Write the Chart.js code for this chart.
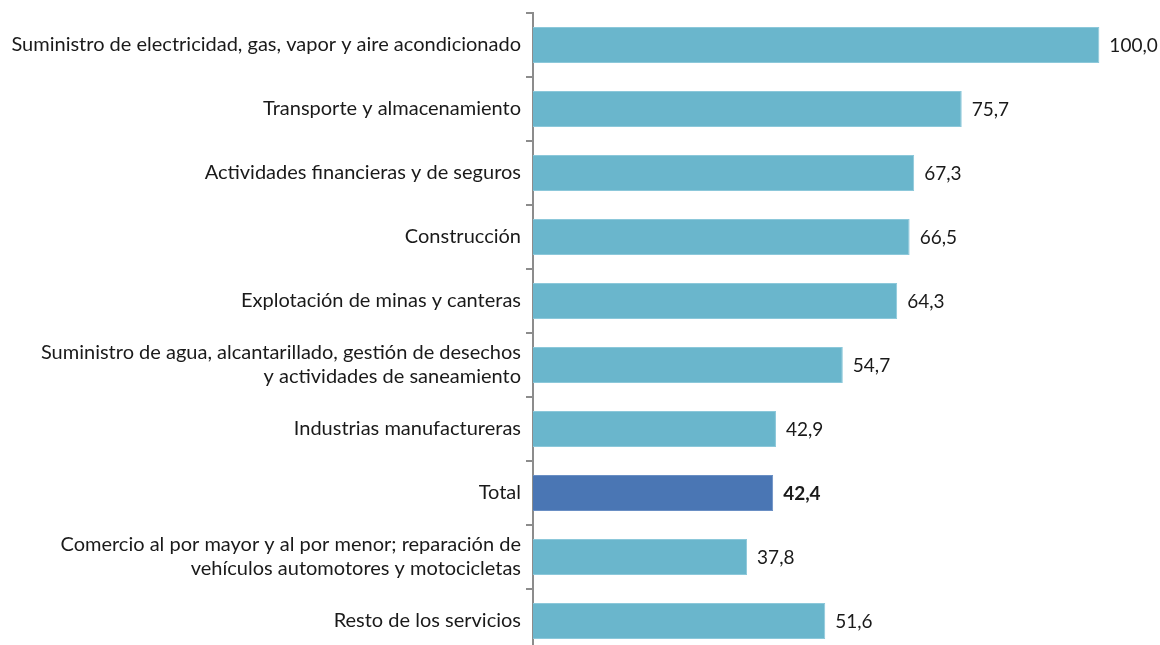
<!DOCTYPE html>
<html>
<head>
<meta charset="utf-8">
<script src="https://cdn.jsdelivr.net/npm/chart.js@4"></script>
<style>
  html, body { margin: 0; padding: 0; background: #fff; overflow: hidden; }
  #wrap { width: 1160px; height: 674px; margin-top: -4px; position: relative; }
</style>
</head>
<body>
<div id="wrap"><canvas id="sectorChart"></canvas></div>
<script>
const sectors = [
  "Suministro de electricidad, gas, vapor y aire acondicionado",
  "Transporte y almacenamiento",
  "Actividades financieras y de seguros",
  "Construcción",
  "Explotación de minas y canteras",
  ["Suministro de agua, alcantarillado, gestión de desechos", "y actividades de saneamiento"],
  "Industrias manufactureras",
  "Total",
  ["Comercio al por mayor y al por menor; reparación de", "vehículos automotores y motocicletas"],
  "Resto de los servicios",
];
const values = [100.0, 75.7, 67.3, 66.5, 64.3, 54.7, 42.9, 42.4, 37.8, 51.6];
const totalIndex = sectors.indexOf("Total");

const fontFamily = "Lato, 'Open Sans', sans-serif";

// draw value labels at the end of each bar
const valueLabels = {
  id: "valueLabels",
  afterDatasetsDraw(chart) {
    const ctx = chart.ctx;
    const meta = chart.getDatasetMeta(0);
    ctx.save();
    ctx.fillStyle = "#1a1a1a";
    ctx.textBaseline = "middle";
    ctx.textAlign = "left";
    meta.data.forEach((bar, i) => {
      const bold = i === totalIndex ? "bold " : "";
      ctx.font = bold + "19px " + fontFamily;
      ctx.fillText(values[i].toFixed(1).replace(".", ","), bar.x + 10, bar.y + 1);
    });
    ctx.restore();
  },
};

new Chart(document.getElementById("sectorChart"), {
  type: "bar",
  data: {
    labels: sectors,
    datasets: [
      {
        data: values,
        backgroundColor: values.map((v, i) => (i === totalIndex ? "#4a76b4" : "#6ab6cc")),
        borderColor: values.map((v, i) => (i === totalIndex ? "#6a8fc4" : "#8cc8da")),
        borderWidth: 1,
        barPercentage: 0.5625,
        categoryPercentage: 1,
      },
    ],
  },
  options: {
    indexAxis: "y",
    responsive: true,
    maintainAspectRatio: false,
    animation: false,
    layout: { padding: { top: 6, right: 4, left: 0, bottom: 0 } },
    scales: {
      x: {
        display: false,
        min: 0,
        max: 110,
      },
      y: {
        afterFit: (scale) => { scale.width = 533; },
        grid: {
          offset: true,
          drawOnChartArea: false,
          drawTicks: true,
          tickLength: 7,
          color: "#8c8c8c",
          lineWidth: 2,
        },
        border: { color: "#8c8c8c", width: 2 },
        ticks: {
          color: "#1a1a1a",
          padding: 5,
          font: { family: fontFamily, size: 20 },
        },
      },
    },
    plugins: {
      legend: { display: false },
      tooltip: { enabled: false },
    },
  },
  plugins: [valueLabels],
});
</script>
</body>
</html>
